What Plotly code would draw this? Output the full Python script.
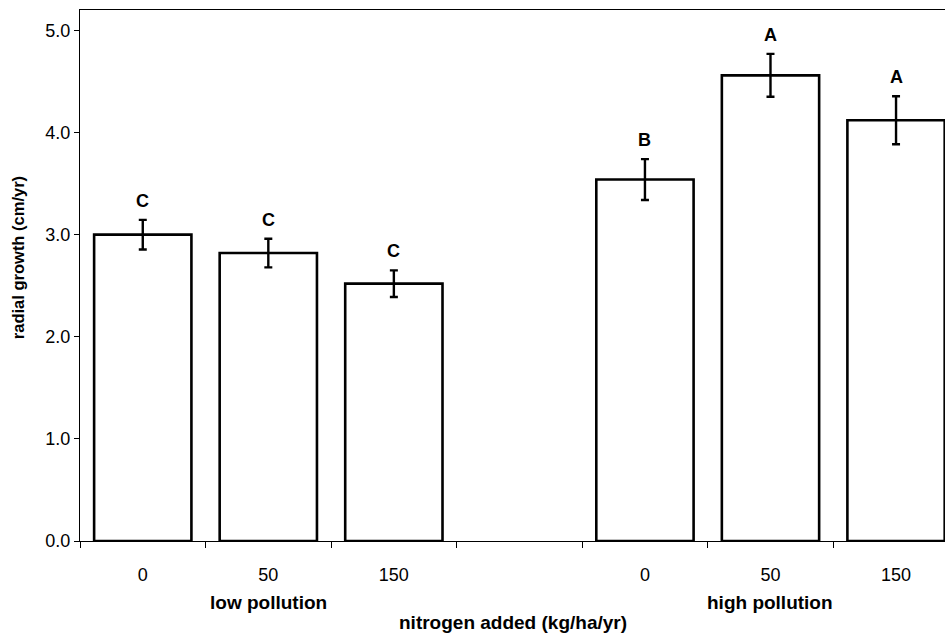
import plotly.graph_objects as go

# Data
positions = [0, 1, 2, 4, 5, 6]
dose_labels = ["0", "50", "150", "0", "50", "150"]
growth = [3.00, 2.82, 2.52, 3.54, 4.56, 4.12]
errors = [0.145, 0.14, 0.13, 0.20, 0.21, 0.235]
letters = ["C", "C", "C", "B", "A", "A"]
groups = ["low pollution", "high pollution"]
group_centers = [1, 5]
slot_edges = [-0.5, 0.5, 1.5, 2.5, 3.5, 4.5, 5.5]
y_ticks = [0, 1, 2, 3, 4, 5]

FONT = "Liberation Sans, Arial, sans-serif"
PLOT_H = 531

fig = go.Figure()
fig.add_trace(go.Bar(
    x=positions, y=growth, width=0.775,
    marker=dict(color="white", line=dict(color="black", width=2.6)),
    error_y=dict(type="data", array=errors, visible=True,
                 color="black", thickness=2.4, width=4),
    showlegend=False, hoverinfo="skip",
))

annotations = []
for xv, yv, ev, lt in zip(positions, growth, errors, letters):
    annotations.append(dict(
        x=xv, y=yv + ev, xref="x", yref="y", text=f"<b>{lt}</b>",
        showarrow=False, yanchor="bottom", yshift=7,
        font=dict(family=FONT, size=18, color="black"),
    ))
for gc, gl in zip(group_centers, groups):
    annotations.append(dict(
        x=gc, y=(541 - 602) / PLOT_H, xref="x", yref="paper", text=f"<b>{gl}</b>",
        showarrow=False, yanchor="middle", xanchor="center",
        font=dict(family=FONT, size=19, color="black"),
    ))
annotations.append(dict(
    x=2.95, y=(541 - 622) / PLOT_H, xref="x", yref="paper",
    text="<b>nitrogen added (kg/ha/yr)</b>",
    showarrow=False, yanchor="middle", xanchor="center",
    font=dict(family=FONT, size=19, color="black"),
))
annotations.append(dict(
    x=(18 - 80) / 865, y=2.77, xref="paper", yref="y",
    text="<b>radial growth (cm/yr)</b>", textangle=-90,
    showarrow=False, yanchor="middle", xanchor="center",
    font=dict(family=FONT, size=16.5, color="black"),
))

fig.update_layout(
    width=945, height=633,
    margin=dict(l=80, r=0, t=10, b=92),
    paper_bgcolor="white", plot_bgcolor="white",
    annotations=annotations,
    xaxis=dict(
        range=[-0.5, 6.39], tickmode="array", tickvals=positions, ticktext=dose_labels,
        ticks="outside", ticklen=17, tickcolor="rgba(0,0,0,0)",
        tickfont=dict(family=FONT, size=18, color="black"),
        showline=True, linecolor="black", linewidth=1, mirror=True,
        showgrid=False, zeroline=False,
        minor=dict(tickmode="array", tickvals=slot_edges, ticks="outside",
                   ticklen=6, tickcolor="black", tickwidth=1, showgrid=False),
    ),
    yaxis=dict(
        range=[0, 5.2], tickmode="array", tickvals=y_ticks, tickformat=".1f",
        ticks="outside", ticklen=5, tickcolor="black", tickwidth=1,
        tickfont=dict(family=FONT, size=18, color="black"),
        showline=True, linecolor="black", linewidth=1,
        showgrid=False, zeroline=False,
    ),
)

# remove the browser's default page margin so the 945x633 figure fills the window exactly
fig.write_html(
    "out.html",
    config={"displayModeBar": False},
    post_script="document.body.style.margin='0';document.body.style.overflow='hidden';",
)
